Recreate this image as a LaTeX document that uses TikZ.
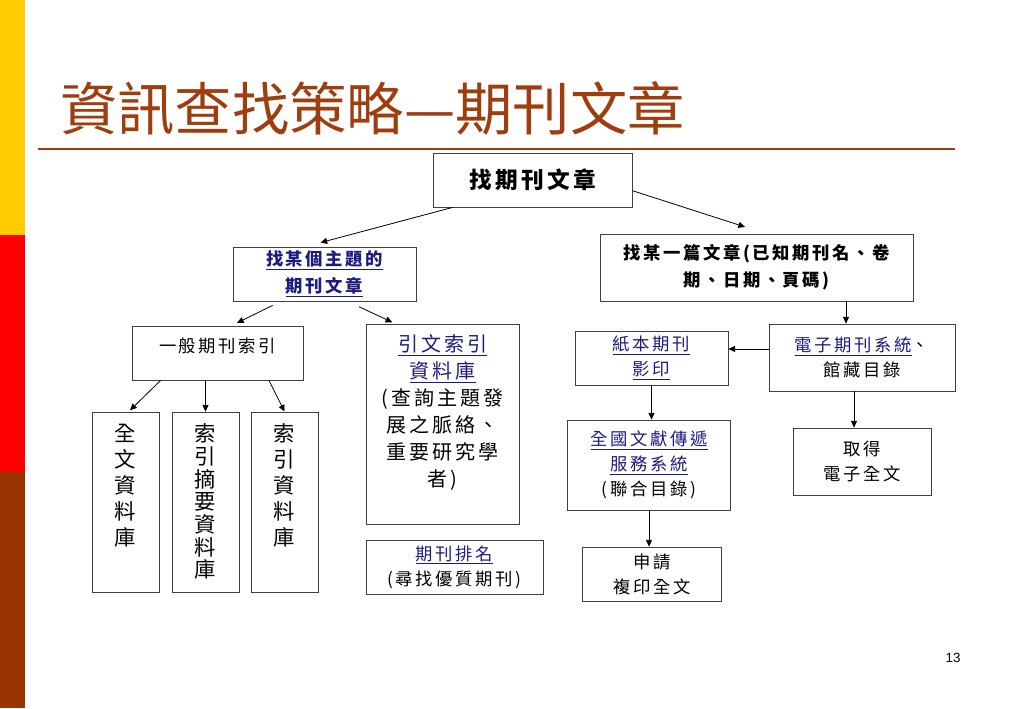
\documentclass[tikz,border=0pt]{standalone}
\usepackage{fontspec}
\setmainfont{Liberation Sans}
\newfontfamily\cjk{Noto Sans CJK TC}[LetterSpace=15]
\newfontfamily\cjkplain{Noto Sans CJK TC}
\usetikzlibrary{arrows.meta}
\definecolor{titlebrown}{RGB}{158,62,14}
\definecolor{linkblue}{RGB}{28,28,128}
\definecolor{baryellow}{RGB}{255,204,0}
\definecolor{barred}{RGB}{255,0,0}
\definecolor{barbrown}{RGB}{153,51,0}
\newcommand{\linkul}[1]{\textcolor{linkblue}{\underline{#1}}}
% top aligned text: height, width, top gap, lines
\newcommand{\topstack}[4]{\parbox[c][#1][t]{#2}{\centering\vspace*{#3}#4}}
\begin{document}
\begin{tikzpicture}[x=0.75pt, y=-0.75pt,
    box/.style={draw=black!75, line width=0.6pt, align=center, inner sep=0pt,
      font=\cjk\fontsize{13}{18.75}\selectfont},
    boldbox/.style={box, font=\cjk\bfseries\fontsize{13}{20}\selectfont},
    colbox/.style={draw=black!75, line width=0.6pt, inner sep=0pt,
      font=\cjkplain\fontsize{16}{19.5}\selectfont},
    arr/.style={-{Triangle[length=5pt,width=4.5pt]}, line width=0.6pt}]
  \useasboundingbox (0,0) rectangle (1023,708);

  % side bars and title
  \fill [baryellow] (0,0) rectangle (25,235);
  \fill [barred] (0,235) rectangle (25,472);
  \fill [barbrown] (0,472) rectangle (25,708);
  \node [anchor=west, inner sep=0pt, text=titlebrown,
    font=\cjkplain\fontsize{43}{50}\selectfont] (title) at (60,108) {資訊查找策略—期刊文章};
  \draw [titlebrown, line width=1.2pt] (38,149) -- (955,149);

  % top level
  \node [boldbox, minimum width=149.25pt, minimum height=40.5pt,
    font=\cjk\bfseries\fontsize{17}{20}\selectfont] (find) at (532.5,180) {找期刊文章};
  \node [boldbox, minimum width=137.25pt, minimum height=40.5pt] (topic) at (324.5,274)
    {\linkul{找某個主題的}\\\linkul{期刊文章}};
  \node [boldbox, minimum width=234.75pt, minimum height=50.25pt] (known) at (756.5,267.5)
    {找某一篇文章(已知期刊名、卷\\期、日期、頁碼)};

  % subject branch
  \node [box, minimum width=128.25pt, minimum height=40.5pt, text depth=12pt] (general) at (217.5,353) {一般期刊索引};
  \node [colbox] (full) at (125.5,502) {\topstack{135pt}{50.25pt}{9pt}{全\\文\\資\\料\\庫}};
  \node [colbox, font=\cjkplain\fontsize{16}{17}\selectfont] (abst) at (205.5,502)
    {\topstack{135pt}{50.25pt}{9pt}{索\\引\\摘\\要\\資\\料\\庫}};
  \node [colbox] (idx) at (284.5,502) {\topstack{135pt}{50.25pt}{9pt}{索\\引\\資\\料\\庫}};
  \node [colbox, font=\cjk\fontsize{15}{20.25}\selectfont] (cite) at (442.5,424)
    {\topstack{150pt}{114.75pt}{8pt}{\linkul{引文索引}\\\linkul{資料庫}\\(查詢主題發\\展之脈絡、\\重要研究學\\者)}};
  \node [box, minimum width=132.75pt, minimum height=40.5pt] (rank) at (454.5,567)
    {\linkul{期刊排名}\\(尋找優質期刊)};

  % known article branch
  \node [box, minimum width=139.5pt, minimum height=50.25pt] (ejnl) at (862,357.5)
    {\linkul{電子期刊系統}、\\館藏目錄};
  \node [box, minimum width=114.75pt, minimum height=40.5pt] (paper) at (651.5,358)
    {\linkul{紙本期刊}\\\linkul{影印}};
  \node [box, minimum width=122.25pt, minimum height=67.5pt] (ndds) at (649,465)
    {\linkul{全國文獻傳遞}\\\linkul{服務系統}\\(聯合目錄)};
  \node [box, minimum width=103.5pt, minimum height=50.25pt] (getft) at (862,461.5)
    {取得\\電子全文};
  \node [box, minimum width=104.25pt, minimum height=40.5pt] (apply) at (652,574)
    {申請\\複印全文};

  \node [font=\fontsize{10}{12}\selectfont] (pgno) at (953,658) {13};

  \coordinate (ejtop) at ([xshift=-12pt]ejnl.north);
  \coordinate (ejleft) at ([yshift=6.4pt]ejnl.west);
  \coordinate (ejbot) at ([xshift=-6pt]ejnl.south);

  \draw [arr] ([xshift=15pt]find.south west) -- ([xshift=-3pt,yshift=3pt]topic.north);
  \draw [arr] ([yshift=-8pt]find.east) -- ([xshift=-8.6pt,yshift=5pt]known.north);
  \draw [arr] ([xshift=30pt,yshift=-3pt]topic.south west) -- ([xshift=14.6pt,yshift=2pt]general.north);
  \draw [arr] ([xshift=-43pt,yshift=-4pt]topic.south east) -- ([xshift=20pt,yshift=1pt]cite.north west);
  \draw [arr] ([xshift=21.75pt]general.south west) -- ([xshift=3.4pt,yshift=1pt]full.north);
  \draw [arr] (abst.north |- general.south) -- (abst.north);
  \draw [arr] ([xshift=38.6pt]general.south) -- (idx.north);
  \draw [arr] (ejtop |- known.south) -- (ejtop);
  \draw [arr] (ejleft) -- (ejleft -| paper.east);
  \draw [arr] (paper.south) -- (paper.south |- ndds.north);
  \draw [arr] (ndds.south) -- (ndds.south |- apply.north);
  \draw [arr] (ejbot) -- (ejbot |- getft.north);
\end{tikzpicture}
\end{document}
